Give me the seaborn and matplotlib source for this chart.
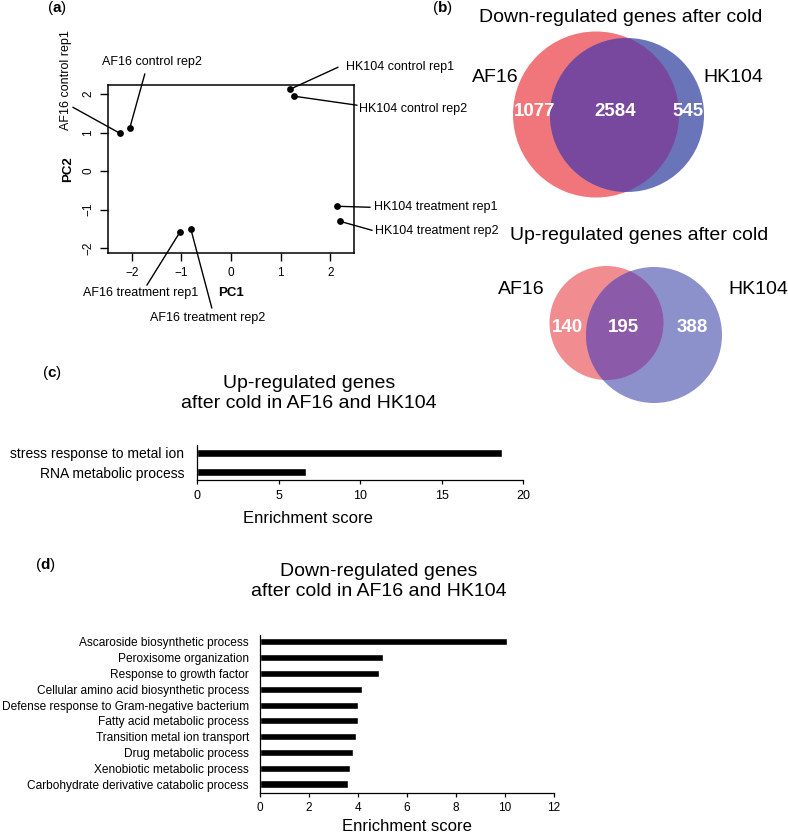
import numpy as np
import pandas as pd
import matplotlib
matplotlib.use('Agg')
import matplotlib.pyplot as plt
from matplotlib.patches import Circle
import seaborn as sns

sns.set_style('ticks')
plt.rcParams['font.family'] = ['Liberation Sans', 'DejaVu Sans']
plt.rcParams['mathtext.fontset'] = 'custom'
plt.rcParams['mathtext.rm'] = 'Liberation Sans'
plt.rcParams['mathtext.bf'] = 'Liberation Sans:bold'
for k in ['text.color', 'axes.labelcolor', 'xtick.color', 'ytick.color', 'axes.edgecolor']:
    plt.rcParams[k] = 'black'

W, H = 788, 836

# (a) PCA of samples
samples = ['AF16 control rep1', 'AF16 control rep2', 'HK104 control rep1', 'HK104 control rep2',
           'HK104 treatment rep1', 'HK104 treatment rep2', 'AF16 treatment rep1', 'AF16 treatment rep2']
pc1 = [-2.24, -2.04, 1.19, 1.27, 2.14, 2.20, -1.03, -0.81]
pc2 = [0.98, 1.12, 2.12, 1.94, -0.91, -1.30, -1.58, -1.50]

# (b) Venn counts: AF16 only, shared, HK104 only
strains = ['AF16', 'HK104']
down_counts = [1077, 2584, 545]
up_counts = [140, 195, 388]

# (c) / (d) GO enrichment
up_terms = ['stress response to metal ion', 'RNA metabolic process']
up_scores = [18.7, 6.7]
down_terms = ['Ascaroside biosynthetic process', 'Peroxisome organization', 'Response to growth factor',
              'Cellular amino acid biosynthetic process', 'Defense response to Gram-negative bacterium',
              'Fatty acid metabolic process', 'Transition metal ion transport', 'Drug metabolic process',
              'Xenobiotic metabolic process', 'Carbohydrate derivative catabolic process']
down_scores = [10.07, 5.03, 4.85, 4.17, 3.99, 3.99, 3.93, 3.78, 3.69, 3.61]


def px_box(x0, y0, x1, y1):
    return [x0 / W, 1 - y1 / H, (x1 - x0) / W, (y1 - y0) / H]


fig = plt.figure(figsize=(W / 100, H / 100), dpi=100)

# overlay in pixel coordinates for venn + panel letters + titles
axv = fig.add_axes([0, 0, 1, 1])
axv.set_xlim(0, W)
axv.set_ylim(H, 0)
axv.axis('off')

# ---------- (a)
ax_a = fig.add_axes(px_box(108, 85, 354, 253))
sns.scatterplot(x=pc1, y=pc2, color='black', s=24, linewidth=0, ax=ax_a, zorder=3)
ax_a.set_xlim(-2.48, 2.48)
ax_a.set_ylim(-2.12, 2.23)
ax_a.set_xticks([-2, -1, 0, 1, 2])
ax_a.set_yticks([-2, -1, 0, 1, 2])
ax_a.tick_params(length=5.8, width=1, pad=4, labelsize=8.5)
ax_a.tick_params(axis='y', labelrotation=90)
for lab in ax_a.get_yticklabels():
    lab.set_va('center')
for sp in ax_a.spines.values():
    sp.set_linewidth(1.1)
ax_a.text(0.5, -0.238, 'PC1', transform=ax_a.transAxes, ha='center', va='center',
          fontsize=9.5, fontweight='bold')
ax_a.text(-0.163, 0.5, 'PC2', transform=ax_a.transAxes, ha='center', va='center',
          fontsize=9.5, fontweight='bold', rotation=90)

# label offsets in pixels from the point: text (dx, dy, ha, rot), line end (dx, dy)
a_text = [(-54, -53, 'center', 90), (22, -66, 'center', 0), (56, -22, 'left', 0), (65, 13, 'left', 0),
          (37, 1, 'left', 0), (35, 10, 'left', 0), (-39.5, 61, 'center', 0), (17, 89, 'center', 0)]
a_line = [(-47, -26), (15, -54), (48, -22), (63, 9), (33, 1), (32, 9), (-33, 53), (21, 79)]
for name, x, y, (tdx, tdy, ha, rot), (ldx, ldy) in zip(samples, pc1, pc2, a_text, a_line):
    ax_a.annotate('', xy=(x, y), xytext=(ldx * 0.72, -ldy * 0.72), textcoords='offset points',
                  arrowprops=dict(arrowstyle='-', color='black', lw=1, shrinkA=0, shrinkB=0),
                  annotation_clip=False)
    ax_a.annotate(name, xy=(x, y), xytext=(tdx * 0.72, -tdy * 0.72), textcoords='offset points',
                  ha=ha, va='center', rotation=rot, fontsize=9, annotation_clip=False)

# ---------- (b) Venn diagrams
venns = [
    dict(title='Down-regulated genes after cold', tpos=(621, 17), counts=down_counts,
         red=(596, 114.5, 83), blue=(627, 115, 77),
         colors=('#f0767b', '#6a74b8', '#78489e'),
         names=[(495, 77), (733, 77)], nums=[535, 615, 688], ny=111),
    dict(title='Up-regulated genes after cold', tpos=(639, 235), counts=up_counts,
         red=(606.5, 323, 57), blue=(654, 335, 68),
         colors=('#f18c91', '#8d91cb', '#8b5aa8'),
         names=[(521, 289), (758, 289)], nums=[567, 623, 692], ny=327),
]
for v in venns:
    rx, ry, rr = v['red']
    bx, by, br = v['blue']
    c_red, c_blue, c_ov = v['colors']
    red = Circle((rx, ry), rr, facecolor=c_red, edgecolor='none')
    blue = Circle((bx, by), br, facecolor=c_blue, edgecolor='none')
    ov = Circle((bx, by), br, facecolor=c_ov, edgecolor='none')
    axv.add_patch(red)
    axv.add_patch(blue)
    axv.add_patch(ov)
    ov.set_clip_path(red)
    axv.text(*v['tpos'], v['title'], ha='center', va='center', fontsize=14)
    for s, (nx, nyy) in zip(strains, v['names']):
        axv.text(nx, nyy, s, ha='center', va='center', fontsize=14)
    for cnt, nx in zip(v['counts'], v['nums']):
        axv.text(nx, v['ny'], str(cnt), ha='center', va='center', fontsize=13.5,
                 fontweight='bold', color='white')

# ---------- (c)
ax_c = fig.add_axes(px_box(197, 445, 523, 480))
sns.barplot(x=up_scores, y=up_terms, orient='h', color='black', saturation=1,
            width=0.42, errorbar=None, ax=ax_c)
ax_c.set_xlim(0, 20)
ax_c.set_ylim(1.42, -0.42)
ax_c.set_xticks([0, 5, 10, 15, 20])
sns.despine(ax=ax_c)
ax_c.tick_params(axis='y', length=0, pad=9, labelsize=10)
ax_c.tick_params(axis='x', length=3, width=0.9, pad=4, labelsize=9)
for sp in ax_c.spines.values():
    sp.set_linewidth(0.9)
ax_c.set_xlabel('Enrichment score', fontsize=12)
ax_c.xaxis.set_label_coords(0.34, -1.09)
ax_c.xaxis.label.set_va('center')
ax_c.set_ylabel('')
axv.text(309, 393.5, 'Up-regulated genes\nafter cold in AF16 and HK104', ha='center', va='center',
         fontsize=14)

# ---------- (d)
ax_d = fig.add_axes(px_box(260, 635, 554, 793))
sns.barplot(x=down_scores, y=down_terms, orient='h', color='black', saturation=1,
            width=0.45, errorbar=None, ax=ax_d)
ax_d.set_xlim(0, 12)
ax_d.set_ylim(9.57, -0.44)
ax_d.set_xticks([0, 2, 4, 6, 8, 10, 12])
sns.despine(ax=ax_d)
ax_d.tick_params(axis='y', length=0, pad=8, labelsize=8.6)
ax_d.tick_params(axis='x', length=3, width=0.9, pad=3.5, labelsize=8.5)
for sp in ax_d.spines.values():
    sp.set_linewidth(0.9)
ax_d.set_xlabel('Enrichment score', fontsize=12)
ax_d.xaxis.set_label_coords(0.5, -0.215)
ax_d.xaxis.label.set_va('center')
ax_d.set_ylabel('')
axv.text(379, 581.5, 'Down-regulated genes\nafter cold in AF16 and HK104', ha='center', va='center',
         fontsize=14)

# panel letters
for letter, (lx, ly) in zip('abcd', [(57, 8), (442, 8), (52, 373), (45, 565)]):
    axv.text(lx, ly, r'($\mathbf{%s}$)' % letter, ha='center', va='center', fontsize=11)

fig.savefig('out.png', dpi=100)
